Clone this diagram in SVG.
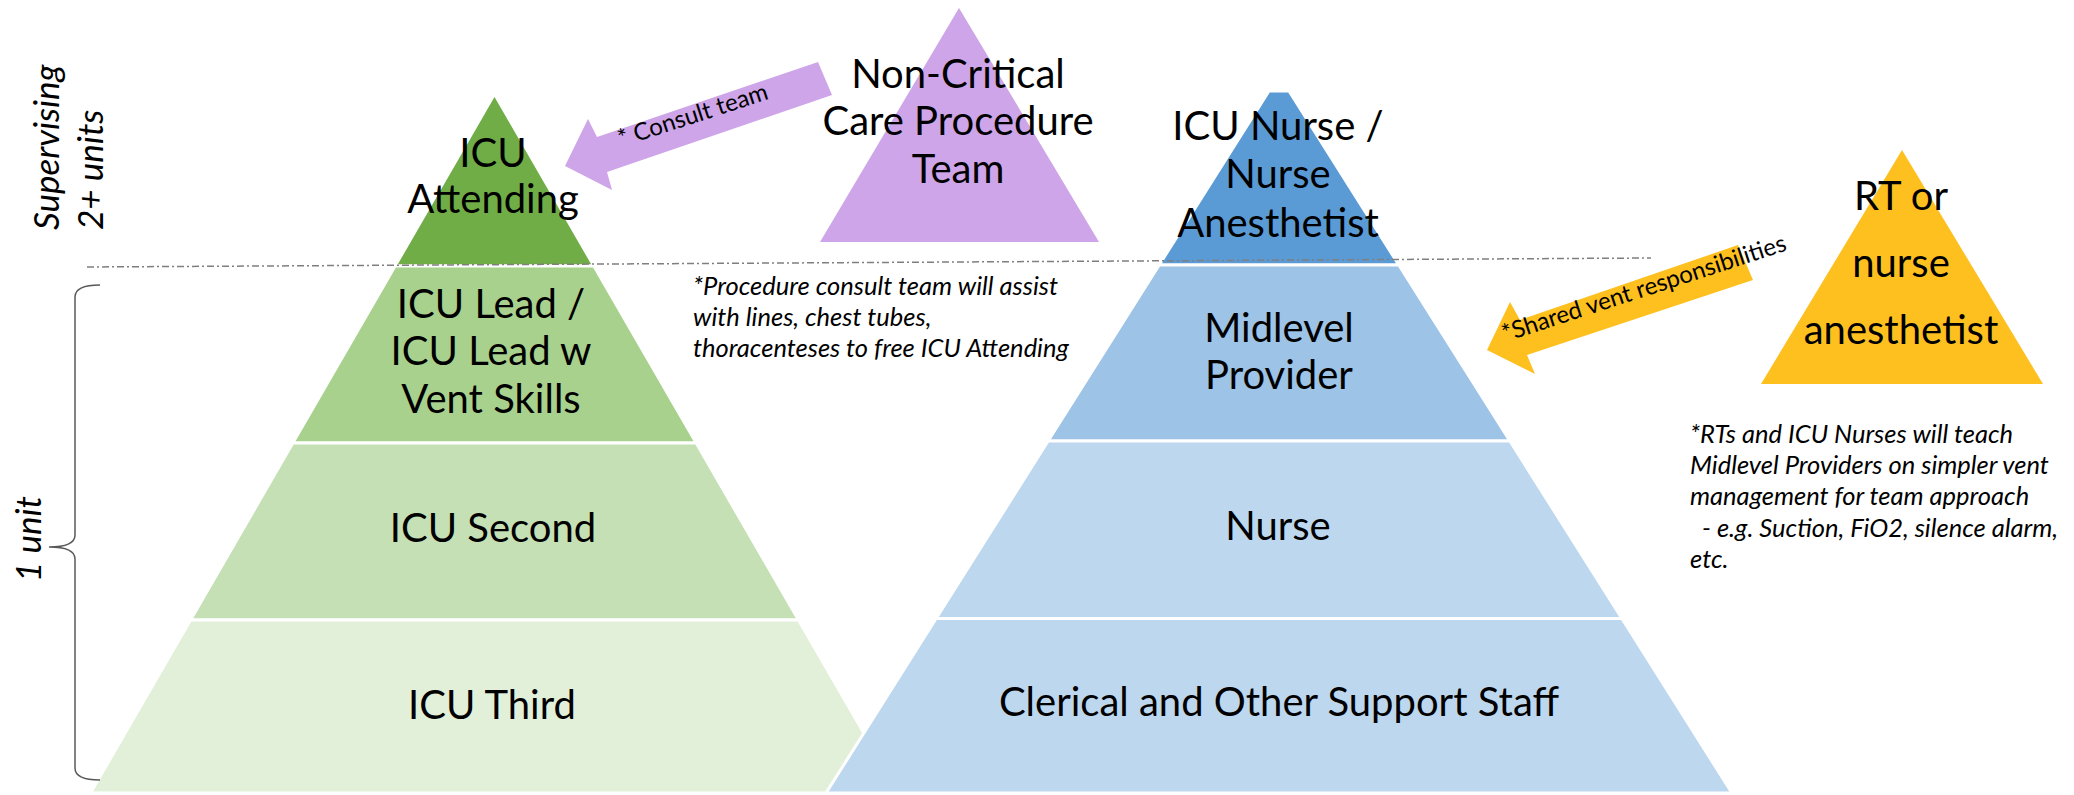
<svg xmlns="http://www.w3.org/2000/svg" width="2074" height="795" viewBox="0 0 2074 795">
<style>
.lbl{font-family:Lato,"Liberation Sans",sans-serif;font-size:40px;fill:#000;text-anchor:middle}
.note{font-family:Lato,"Liberation Sans",sans-serif;font-size:25.5px;font-style:italic;fill:#000}
.side{font-family:Lato,"Liberation Sans",sans-serif;font-size:35px;font-style:italic;fill:#000}
.arrtxt{font-family:Lato,"Liberation Sans",sans-serif;font-size:24px;fill:#000}
.tier{stroke:#fff;stroke-width:3;stroke-linejoin:miter}
</style>
<rect width="2074" height="795" fill="#fff"/>

<g id="icu-pyramid">
  <g id="icu-attending">
    <polygon class="tier" fill="#70AD47" points="494.5,94 593.9,266 395.1,266"/>
    <text class="lbl" x="493" y="167">ICU</text>
    <text class="lbl" x="493" y="213">Attending</text>
  </g>
  <g id="icu-lead">
    <polygon class="tier" fill="#A9D18E" points="395.1,266 593.9,266 696.2,443 292.8,443"/>
    <text class="lbl" x="491" y="318">ICU Lead /</text>
    <text class="lbl" x="491" y="365">ICU Lead w</text>
    <text class="lbl" x="491" y="413">Vent Skills</text>
  </g>
  <g id="icu-second">
    <polygon class="tier" fill="#C5E0B4" points="292.8,443 696.2,443 798.5,620 190.5,620"/>
    <text class="lbl" x="493" y="542">ICU Second</text>
  </g>
  <g id="icu-third">
    <polygon class="tier" fill="#E2F0D9" points="190.5,620 798.5,620 898.5,793 90.5,793"/>
    <text class="lbl" x="492" y="719">ICU Third</text>
  </g>
</g>

<g id="nurse-pyramid">
  <g id="icu-nurse">
    <polygon class="tier" fill="#5B9BD5" points="1269,91 1289,91 1398.8,265 1159.2,265"/>
    <text class="lbl" x="1278" y="140">ICU Nurse /</text>
    <text class="lbl" x="1278" y="188">Nurse</text>
    <text class="lbl" x="1278" y="237">Anesthetist</text>
  </g>
  <g id="midlevel">
    <polygon class="tier" fill="#9DC3E6" points="1159.2,265 1398.8,265 1509.9,441 1048.1,441"/>
    <text class="lbl" x="1279" y="342">Midlevel</text>
    <text class="lbl" x="1279" y="389">Provider</text>
  </g>
  <g id="nurse">
    <polygon class="tier" fill="#BDD7EE" points="1048.1,441 1509.9,441 1621.9,618.5 936.1,618.5"/>
    <text class="lbl" x="1278" y="540">Nurse</text>
  </g>
  <g id="clerical">
    <polygon class="tier" fill="#BDD7EE" points="936.1,618.5 1621.9,618.5 1732,793 826,793"/>
    <text class="lbl" x="1279" y="716">Clerical and Other Support Staff</text>
  </g>
</g>

<g id="procedure-team">
  <polygon fill="#CDA5E8" points="959,8 1099,242 820,242"/>
  <text class="lbl" x="958" y="88">Non-Critical</text>
  <text class="lbl" x="958" y="135">Care Procedure</text>
  <text class="lbl" x="958" y="183">Team</text>
</g>

<g id="rt-team">
  <polygon fill="#FEC01F" points="1902,150 2043,384 1761,384"/>
  <text class="lbl" x="1901" y="210">RT or</text>
  <text class="lbl" x="1901" y="277">nurse</text>
  <text class="lbl" x="1901" y="344">anesthetist</text>
</g>

<g id="connectors">
  <g id="consult-arrow">
    <polygon fill="#CDA5E8" points="565,166 588,119 597,137 818,62 832,95 607,172 612,190"/>
    <text class="arrtxt" transform="translate(621,147) rotate(-18)">* Consult team</text>
  </g>
  <g id="vent-arrow">
    <polygon fill="#FEC01F" points="1487,350 1510,302 1520,320 1738,245 1753,280 1527,355 1535,374"/>
    <text class="arrtxt" transform="translate(1505,342) rotate(-18)">*Shared vent responsibilities</text>
  </g>
</g>

<g id="divider">
  <line x1="87" y1="267" x2="1651" y2="258" stroke="#7F7F7F" stroke-width="1.5" stroke-dasharray="7 3 2 3"/>
</g>

<g id="side-labels">
  <text class="side" transform="translate(59,230) rotate(-90)">Supervising</text>
  <text class="side" transform="translate(103,230) rotate(-90)">2+ units</text>
  <path d="M100,285 Q75,285 75,297 L75,535 Q75,547 49,547 Q75,547 75,559 L75,768 Q75,780 100,780" fill="none" stroke="#595959" stroke-width="1.5"/>
  <text class="side" transform="translate(41,582) rotate(-90)">1 unit</text>
</g>

<g id="notes">
  <text class="note" x="693" y="295">*Procedure consult team will assist</text>
  <text class="note" x="693" y="326">with lines, chest tubes,</text>
  <text class="note" x="693" y="357">thoracenteses to free ICU Attending</text>
  <text class="note" x="1690" y="443">*RTs and ICU Nurses will teach</text>
  <text class="note" x="1690" y="474">Midlevel Providers on simpler vent</text>
  <text class="note" x="1690" y="505">management for team approach</text>
  <text class="note" x="1702" y="537">- e.g. Suction, FiO2, silence alarm,</text>
  <text class="note" x="1690" y="568">etc.</text>
</g>
</svg>
